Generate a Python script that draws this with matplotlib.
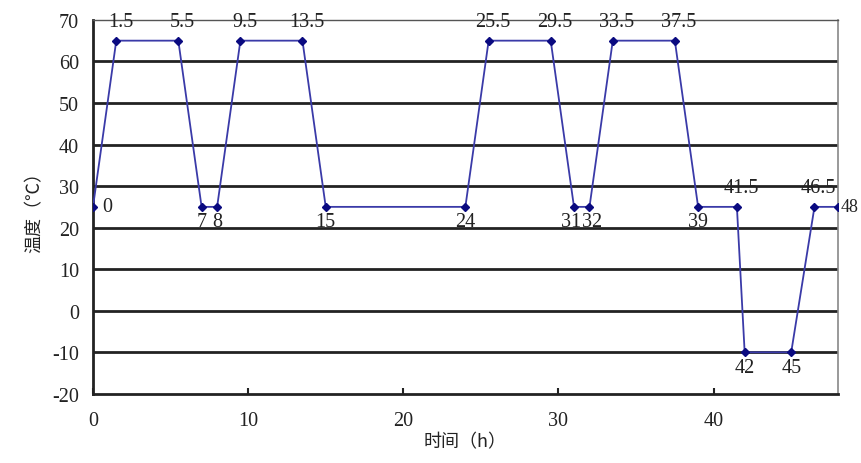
import matplotlib
matplotlib.use('Agg')
import matplotlib.pyplot as plt

plt.rcParams['font.family'] = ['Liberation Serif', 'Noto Sans CJK SC']
plt.rcParams['axes.unicode_minus'] = False

# time (h) and temperature (C)
times = [0, 1.5, 5.5, 7, 8, 9.5, 13.5, 15, 24, 25.5, 29.5, 31, 32, 33.5, 37.5,
         39, 41.5, 42, 45, 46.5, 48]
temps = [25, 65, 65, 25, 25, 65, 65, 25, 25, 65, 65, 25, 25, 65, 65,
         25, 25, -10, -10, 25, 25]
point_labels = ['0', '1.5', '5.5', '7', '8', '9.5', '13.5', '15', '24', '25.5', '29.5',
                '31', '32', '33.5', '37.5', '39', '41.5', '42', '45', '46.5', '48']
# where each label sits
label_side = ['right', 'up', 'up', 'down', 'down', 'up', 'up', 'down', 'down', 'up', 'up',
              'downleft', 'downright', 'up', 'up', 'down', 'up', 'down', 'down', 'up', 'edge']

fig = plt.figure(figsize=(8.61, 4.64), dpi=100)
ax = fig.add_axes([0.108, 0.149, 0.865, 0.806])

for y in range(-10, 70, 10):
    ax.axhline(y, color='#222222', lw=2, zorder=1)

ax.plot(times, temps, color='#3a3aa8', lw=1.3, marker='D', ms=4,
        mfc='#0a0a80', mec='#0a0a80', zorder=3)

offsets = {'up': (3, 7, 'center', 'bottom', 14.5),
           'down': (0, -4, 'center', 'top', 14.5),
           'downleft': (-2, -4, 'center', 'top', 14.5),
           'downright': (2, -4, 'center', 'top', 14.5),
           'right': (7, 0, 'left', 'center', 14.5),
           'edge': (2, 0, 'left', 'center', 13)}
for t, v, lab, side in zip(times, temps, point_labels, label_side):
    dx, dy, ha, va, fs = offsets[side]
    ax.annotate(lab, (t, v), xytext=(dx, dy), textcoords='offset points',
                ha=ha, va=va, fontsize=fs, color='#222222', zorder=4,
                annotation_clip=False)

ax.set_xlim(0, 48)
ax.set_ylim(-20, 70)
ax.set_xticks([0, 10, 20, 30, 40])
ax.set_yticks(range(-20, 80, 10))
ax.tick_params(axis='x', direction='in', length=4, width=1.5, labelsize=14.5,
               colors='#222222', pad=12)
ax.tick_params(axis='y', length=0, labelsize=14.5, colors='#222222', pad=10)

for s in ['left', 'bottom']:
    ax.spines[s].set_linewidth(2)
    ax.spines[s].set_color('#222222')
ax.spines['top'].set_linewidth(1)
ax.spines['top'].set_color('#555555')
ax.spines['right'].set_linewidth(1.2)
ax.spines['right'].set_color('#888888')

ax.set_xlabel('时间（h）', fontsize=13, color='#222222', labelpad=2,
              family=['Noto Sans CJK SC'])
ax.set_ylabel('温度（℃）', fontsize=13, color='#222222', labelpad=6,
              family=['Noto Sans CJK SC'])

fig.savefig('out.png', dpi=100)
